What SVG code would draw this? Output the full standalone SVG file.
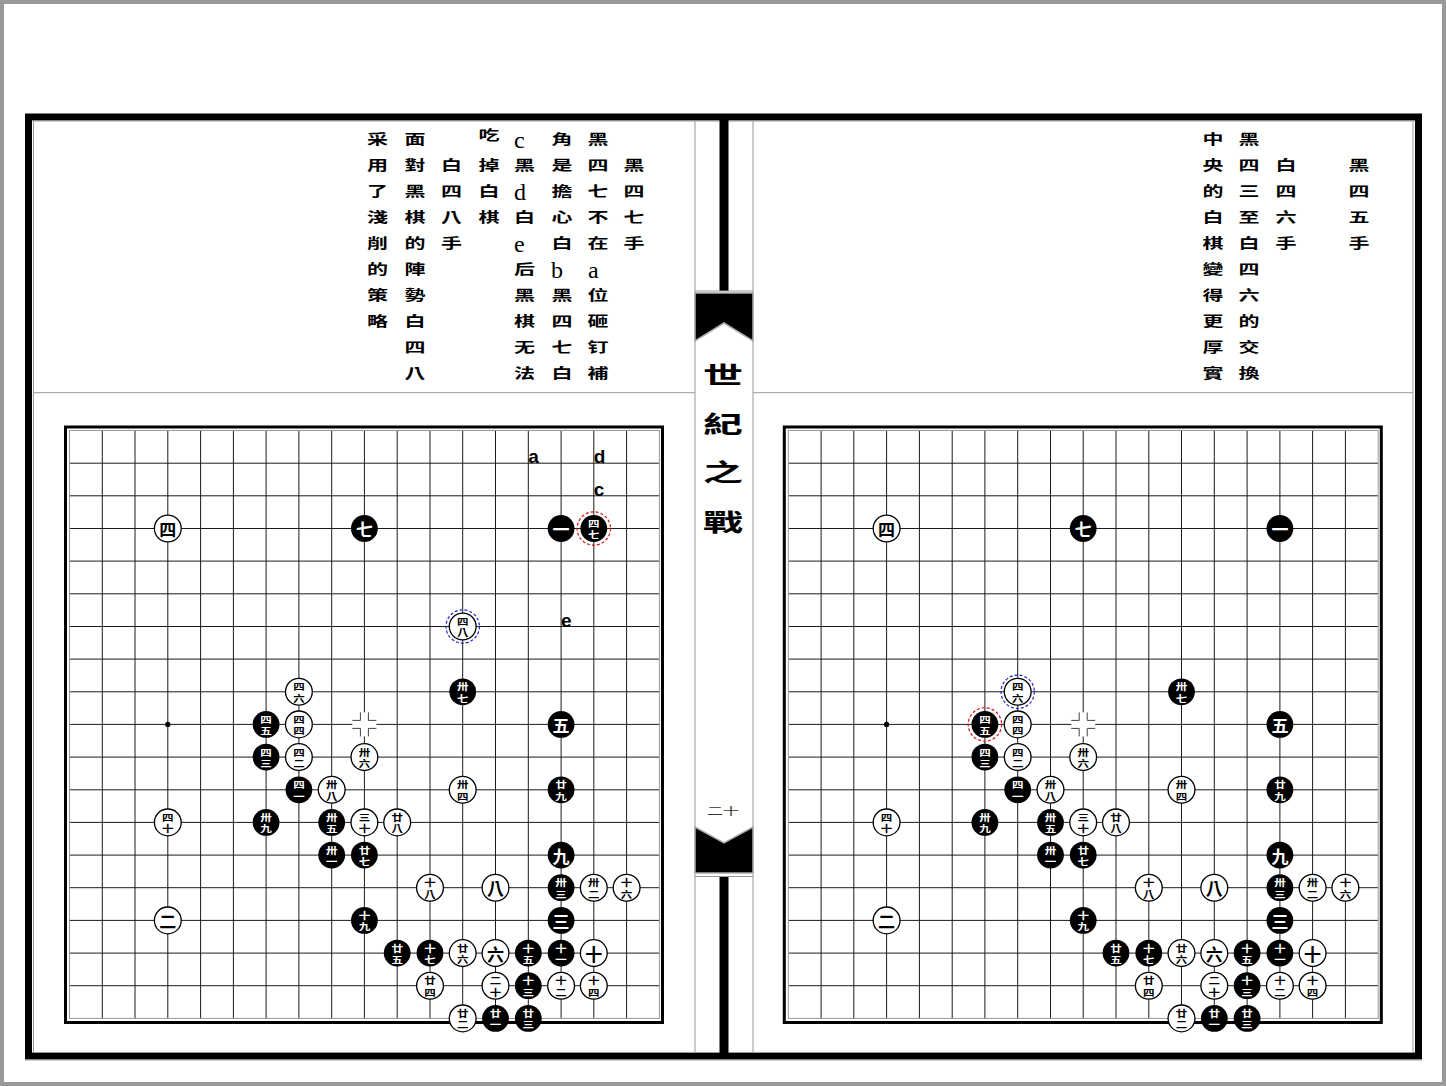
<svg xmlns="http://www.w3.org/2000/svg" width="1446" height="1086" viewBox="0 0 1446 1086">
<style>
.ln{stroke:#1a1a1a;stroke-width:1;fill:none}
.edge{stroke:#999;stroke-width:1;fill:none}
.gr{stroke:#999;stroke-width:1;fill:none}
.bs{fill:#000}
.ws{fill:#fff;stroke:#000;stroke-width:1.3}
.cj{font-family:"Noto Sans CJK TC","Noto Sans CJK SC",sans-serif;text-anchor:middle;dominant-baseline:central}
.t1{font-size:17px;font-weight:700}
.t2{font-size:11.5px;font-weight:700}
.wt{fill:#fff}
.rd{fill:none;stroke:#e01010;stroke-width:1.2;stroke-dasharray:3 2}
.bd{fill:none;stroke:#2020d0;stroke-width:1.2;stroke-dasharray:3 2}
.lb{font-family:"Liberation Sans",Arial,sans-serif;font-weight:700;font-size:19px;fill:#000}
.body{font-size:21px;font-weight:700;fill:#000}
.lat{font-family:"Liberation Serif","Times New Roman",serif;font-size:24px;fill:#000}
.ttl{font-size:40px;font-weight:700}
</style>
<defs>
<path id="grid" d="M102.3 430.5V1018.4M135 430.5V1018.4M167.8 430.5V1018.4M200.6 430.5V1018.4M233.4 430.5V1018.4M266.1 430.5V1018.4M298.9 430.5V1018.4M331.7 430.5V1018.4M364.4 430.5V1018.4M397.2 430.5V1018.4M430 430.5V1018.4M462.7 430.5V1018.4M495.5 430.5V1018.4M528.3 430.5V1018.4M561.1 430.5V1018.4M593.8 430.5V1018.4M626.6 430.5V1018.4M69.5 463.2H659.4M69.5 495.8H659.4M69.5 528.5H659.4M69.5 561.1H659.4M69.5 593.8H659.4M69.5 626.5H659.4M69.5 659.1H659.4M69.5 691.8H659.4M69.5 724.4H659.4M69.5 757.1H659.4M69.5 789.8H659.4M69.5 822.4H659.4M69.5 855.1H659.4M69.5 887.7H659.4M69.5 920.4H659.4M69.5 953.1H659.4M69.5 985.7H659.4"/>
<g id="tengen"><rect x="-12" y="-12" width="24" height="24" fill="#fff"/><path d="M-4 -12V-4H-12M4 -12V-4H12M-4 12V4H-12M4 12V4H12" stroke="#444" stroke-width="1" fill="none"/></g>
</defs>
<rect x="0" y="0" width="1446" height="1086" fill="#fff"/>
<rect x="2" y="2" width="1442" height="1082" fill="none" stroke="#999" stroke-width="4"/>

<g id="frame">
<rect x="28.5" y="117" width="1390" height="939" fill="none" stroke="#000" stroke-width="7"/>
<rect x="33.5" y="121" width="1379.5" height="931.5" class="gr"/>
<line x1="25" y1="1060" x2="1422" y2="1060" class="gr"/>
<line x1="33.5" y1="392.7" x2="695" y2="392.7" class="gr"/>
<line x1="753" y1="392.7" x2="1413" y2="392.7" class="gr"/>
<line x1="695" y1="121" x2="695" y2="1053" class="gr"/>
<line x1="753" y1="121" x2="753" y2="1053" class="gr"/>
<rect x="719.5" y="120" width="9" height="171" fill="#000"/>
<line x1="695" y1="291" x2="753" y2="291" class="gr"/>
<polygon points="695,293 753,293 753,341 724,323 695,341" fill="#000" stroke="#aaa" stroke-width="1.5"/>
<polygon points="695,827 724,843 753,827 753,873 695,873" fill="#000" stroke="#aaa" stroke-width="1.5"/>
<line x1="695" y1="876.5" x2="753" y2="876.5" class="gr"/>
<rect x="719.5" y="877" width="9" height="177" fill="#000"/>
</g>

<g id="title" class="cj ttl" transform="scale(1,0.6)">
<text x="723" y="621.67">世</text>
<text x="723" y="703.33">紀</text>
<text x="723" y="783.33">之</text>
<text x="723" y="866.67">戰</text>
</g>
<g id="pageno" class="cj" transform="scale(1,0.65)"><text x="723" y="1246.15" font-size="16" fill="#333">二十</text></g>

<g id="text-left" class="cj body" transform="scale(1,0.65)">
<text><tspan x="634" y="252.31">黑</tspan><tspan x="634" y="292.31">四</tspan><tspan x="634" y="332.31">七</tspan><tspan x="634" y="372.31">手</tspan></text>
<text><tspan x="598" y="212.31">黑</tspan><tspan x="598" y="252.31">四</tspan><tspan x="598" y="292.31">七</tspan><tspan x="598" y="332.31">不</tspan><tspan x="598" y="372.31">在</tspan><tspan x="598" y="452.31">位</tspan><tspan x="598" y="492.31">砸</tspan><tspan x="598" y="532.31">钉</tspan><tspan x="598" y="572.31">補</tspan></text>
<text><tspan x="562" y="212.31">角</tspan><tspan x="562" y="252.31">是</tspan><tspan x="562" y="292.31">擔</tspan><tspan x="562" y="332.31">心</tspan><tspan x="562" y="372.31">白</tspan><tspan x="562" y="452.31">黑</tspan><tspan x="562" y="492.31">四</tspan><tspan x="562" y="532.31">七</tspan><tspan x="562" y="572.31">白</tspan></text>
<text><tspan x="524.5" y="252.31">黑</tspan><tspan x="524.5" y="332.31">白</tspan><tspan x="524.5" y="412.31">后</tspan><tspan x="524.5" y="452.31">黑</tspan><tspan x="524.5" y="492.31">棋</tspan><tspan x="524.5" y="532.31">无</tspan><tspan x="524.5" y="572.31">法</tspan></text>
<text><tspan x="489" y="206.15">吃</tspan><tspan x="489" y="252.31">掉</tspan><tspan x="489" y="292.31">白</tspan><tspan x="489" y="332.31">棋</tspan></text>
<text><tspan x="451.5" y="252.31">白</tspan><tspan x="451.5" y="292.31">四</tspan><tspan x="451.5" y="332.31">八</tspan><tspan x="451.5" y="372.31">手</tspan></text>
<text><tspan x="415" y="212.31">面</tspan><tspan x="415" y="252.31">對</tspan><tspan x="415" y="292.31">黑</tspan><tspan x="415" y="332.31">棋</tspan><tspan x="415" y="372.31">的</tspan><tspan x="415" y="412.31">陣</tspan><tspan x="415" y="452.31">勢</tspan><tspan x="415" y="492.31">白</tspan><tspan x="415" y="532.31">四</tspan><tspan x="415" y="572.31">八</tspan></text>
<text><tspan x="377.5" y="212.31">采</tspan><tspan x="377.5" y="252.31">用</tspan><tspan x="377.5" y="292.31">了</tspan><tspan x="377.5" y="332.31">淺</tspan><tspan x="377.5" y="372.31">削</tspan><tspan x="377.5" y="412.31">的</tspan><tspan x="377.5" y="452.31">策</tspan><tspan x="377.5" y="492.31">略</tspan></text>
</g>
<g id="text-left-latin" class="lat">
<text x="588" y="277.5">a</text>
<text x="551" y="277.5">b</text>
<text x="514" y="147.5">c</text>
<text x="514" y="199.5">d</text>
<text x="514" y="251.5">e</text>
</g>

<g id="text-right" class="cj body" transform="scale(1,0.65)">
<text><tspan x="1359" y="252.31">黑</tspan><tspan x="1359" y="292.31">四</tspan><tspan x="1359" y="332.31">五</tspan><tspan x="1359" y="372.31">手</tspan></text>
<text><tspan x="1286" y="252.31">白</tspan><tspan x="1286" y="292.31">四</tspan><tspan x="1286" y="332.31">六</tspan><tspan x="1286" y="372.31">手</tspan></text>
<text><tspan x="1249" y="212.31">黑</tspan><tspan x="1249" y="252.31">四</tspan><tspan x="1249" y="292.31">三</tspan><tspan x="1249" y="332.31">至</tspan><tspan x="1249" y="372.31">白</tspan><tspan x="1249" y="412.31">四</tspan><tspan x="1249" y="452.31">六</tspan><tspan x="1249" y="492.31">的</tspan><tspan x="1249" y="532.31">交</tspan><tspan x="1249" y="572.31">換</tspan></text>
<text><tspan x="1213" y="212.31">中</tspan><tspan x="1213" y="252.31">央</tspan><tspan x="1213" y="292.31">的</tspan><tspan x="1213" y="332.31">白</tspan><tspan x="1213" y="372.31">棋</tspan><tspan x="1213" y="412.31">變</tspan><tspan x="1213" y="452.31">得</tspan><tspan x="1213" y="492.31">更</tspan><tspan x="1213" y="532.31">厚</tspan><tspan x="1213" y="572.31">實</tspan></text>
</g>

<g id="board-left">
<rect x="65.5" y="427" width="597" height="595.5" fill="none" stroke="#000" stroke-width="3"/>
<g id="L-grid">
<use href="#grid" class="ln"/>
<rect x="69.5" y="430.5" width="589.9" height="587.9" class="edge"/>
<circle cx="167.8" cy="724.4" r="2.6" fill="#000"/>
<use href="#tengen" transform="translate(364.4,724.4)"/>
</g>
<g id="L-labels" class="lb">
<text x="528.3" y="463.2">a</text>
<text x="593.8" y="463.2">d</text>
<text x="593.8" y="495.8">c</text>
<text x="561.1" y="626.5">e</text>
</g>
<g id="L-stones" class="cj">
<g id="L-w4" transform="translate(167.8,528.5)"><circle class="ws" r="13.4"/><text class="t1">四</text></g>
<g id="L-b7" transform="translate(364.4,528.5)"><circle class="bs" r="13.4"/><text class="t1 wt">七</text></g>
<g id="L-b1" transform="translate(561.1,528.5)"><circle class="bs" r="13.4"/><text class="t1 wt">一</text></g>
<g id="L-b47" transform="translate(593.8,528.5)"><circle class="bs" r="13.4"/><circle class="rd" r="16.7"/><text class="t2 wt" transform="scale(1,0.8)"><tspan x="0" y="-7.5">四</tspan><tspan x="0" y="6.9">七</tspan></text></g>
<g id="L-w48" transform="translate(462.7,626.5)"><circle class="ws" r="13.4"/><circle class="bd" r="16.7"/><text class="t2" transform="scale(1,0.8)"><tspan x="0" y="-7.5">四</tspan><tspan x="0" y="6.9">八</tspan></text></g>
<g id="L-b37" transform="translate(462.7,691.8)"><circle class="bs" r="13.4"/><text class="t2 wt" transform="scale(1,0.8)"><tspan x="0" y="-7.5">卅</tspan><tspan x="0" y="6.9">七</tspan></text></g>
<g id="L-b5" transform="translate(561.1,724.4)"><circle class="bs" r="13.4"/><text class="t1 wt">五</text></g>
<g id="L-w46" transform="translate(298.9,691.8)"><circle class="ws" r="13.4"/><text class="t2" transform="scale(1,0.8)"><tspan x="0" y="-7.5">四</tspan><tspan x="0" y="6.9">六</tspan></text></g>
<g id="L-b45" transform="translate(266.1,724.4)"><circle class="bs" r="13.4"/><text class="t2 wt" transform="scale(1,0.8)"><tspan x="0" y="-7.5">四</tspan><tspan x="0" y="6.9">五</tspan></text></g>
<g id="L-w44" transform="translate(298.9,724.4)"><circle class="ws" r="13.4"/><text class="t2" transform="scale(1,0.8)"><tspan x="0" y="-7.5">四</tspan><tspan x="0" y="6.9">四</tspan></text></g>
<g id="L-b43" transform="translate(266.1,757.1)"><circle class="bs" r="13.4"/><text class="t2 wt" transform="scale(1,0.8)"><tspan x="0" y="-7.5">四</tspan><tspan x="0" y="6.9">三</tspan></text></g>
<g id="L-w42" transform="translate(298.9,757.1)"><circle class="ws" r="13.4"/><text class="t2" transform="scale(1,0.8)"><tspan x="0" y="-7.5">四</tspan><tspan x="0" y="6.9">二</tspan></text></g>
<g id="L-w36" transform="translate(364.4,757.1)"><circle class="ws" r="13.4"/><text class="t2" transform="scale(1,0.8)"><tspan x="0" y="-7.5">卅</tspan><tspan x="0" y="6.9">六</tspan></text></g>
<g id="L-b41" transform="translate(298.9,789.8)"><circle class="bs" r="13.4"/><text class="t2 wt" transform="scale(1,0.8)"><tspan x="0" y="-7.5">四</tspan><tspan x="0" y="6.9">一</tspan></text></g>
<g id="L-w38" transform="translate(331.7,789.8)"><circle class="ws" r="13.4"/><text class="t2" transform="scale(1,0.8)"><tspan x="0" y="-7.5">卅</tspan><tspan x="0" y="6.9">八</tspan></text></g>
<g id="L-w34" transform="translate(462.7,789.8)"><circle class="ws" r="13.4"/><text class="t2" transform="scale(1,0.8)"><tspan x="0" y="-7.5">卅</tspan><tspan x="0" y="6.9">四</tspan></text></g>
<g id="L-b29" transform="translate(561.1,789.8)"><circle class="bs" r="13.4"/><text class="t2 wt" transform="scale(1,0.8)"><tspan x="0" y="-7.5">廿</tspan><tspan x="0" y="6.9">九</tspan></text></g>
<g id="L-w40" transform="translate(167.8,822.4)"><circle class="ws" r="13.4"/><text class="t2" transform="scale(1,0.8)"><tspan x="0" y="-7.5">四</tspan><tspan x="0" y="6.9">十</tspan></text></g>
<g id="L-b39" transform="translate(266.1,822.4)"><circle class="bs" r="13.4"/><text class="t2 wt" transform="scale(1,0.8)"><tspan x="0" y="-7.5">卅</tspan><tspan x="0" y="6.9">九</tspan></text></g>
<g id="L-b35" transform="translate(331.7,822.4)"><circle class="bs" r="13.4"/><text class="t2 wt" transform="scale(1,0.8)"><tspan x="0" y="-7.5">卅</tspan><tspan x="0" y="6.9">五</tspan></text></g>
<g id="L-w30" transform="translate(364.4,822.4)"><circle class="ws" r="13.4"/><text class="t2" transform="scale(1,0.8)"><tspan x="0" y="-7.5">三</tspan><tspan x="0" y="6.9">十</tspan></text></g>
<g id="L-w28" transform="translate(397.2,822.4)"><circle class="ws" r="13.4"/><text class="t2" transform="scale(1,0.8)"><tspan x="0" y="-7.5">廿</tspan><tspan x="0" y="6.9">八</tspan></text></g>
<g id="L-b31" transform="translate(331.7,855.1)"><circle class="bs" r="13.4"/><text class="t2 wt" transform="scale(1,0.8)"><tspan x="0" y="-7.5">卅</tspan><tspan x="0" y="6.9">一</tspan></text></g>
<g id="L-b27" transform="translate(364.4,855.1)"><circle class="bs" r="13.4"/><text class="t2 wt" transform="scale(1,0.8)"><tspan x="0" y="-7.5">廿</tspan><tspan x="0" y="6.9">七</tspan></text></g>
<g id="L-b9" transform="translate(561.1,855.1)"><circle class="bs" r="13.4"/><text class="t1 wt">九</text></g>
<g id="L-w18" transform="translate(430,887.7)"><circle class="ws" r="13.4"/><text class="t2" transform="scale(1,0.8)"><tspan x="0" y="-7.5">十</tspan><tspan x="0" y="6.9">八</tspan></text></g>
<g id="L-w8" transform="translate(495.5,887.7)"><circle class="ws" r="13.4"/><text class="t1">八</text></g>
<g id="L-b33" transform="translate(561.1,887.7)"><circle class="bs" r="13.4"/><text class="t2 wt" transform="scale(1,0.8)"><tspan x="0" y="-7.5">卅</tspan><tspan x="0" y="6.9">三</tspan></text></g>
<g id="L-w32" transform="translate(593.8,887.7)"><circle class="ws" r="13.4"/><text class="t2" transform="scale(1,0.8)"><tspan x="0" y="-7.5">卅</tspan><tspan x="0" y="6.9">二</tspan></text></g>
<g id="L-w16" transform="translate(626.6,887.7)"><circle class="ws" r="13.4"/><text class="t2" transform="scale(1,0.8)"><tspan x="0" y="-7.5">十</tspan><tspan x="0" y="6.9">六</tspan></text></g>
<g id="L-w2" transform="translate(167.8,920.4)"><circle class="ws" r="13.4"/><text class="t1">二</text></g>
<g id="L-b19" transform="translate(364.4,920.4)"><circle class="bs" r="13.4"/><text class="t2 wt" transform="scale(1,0.8)"><tspan x="0" y="-7.5">十</tspan><tspan x="0" y="6.9">九</tspan></text></g>
<g id="L-b3" transform="translate(561.1,920.4)"><circle class="bs" r="13.4"/><text class="t1 wt">三</text></g>
<g id="L-b25" transform="translate(397.2,953.1)"><circle class="bs" r="13.4"/><text class="t2 wt" transform="scale(1,0.8)"><tspan x="0" y="-7.5">廿</tspan><tspan x="0" y="6.9">五</tspan></text></g>
<g id="L-b17" transform="translate(430,953.1)"><circle class="bs" r="13.4"/><text class="t2 wt" transform="scale(1,0.8)"><tspan x="0" y="-7.5">十</tspan><tspan x="0" y="6.9">七</tspan></text></g>
<g id="L-w26" transform="translate(462.7,953.1)"><circle class="ws" r="13.4"/><text class="t2" transform="scale(1,0.8)"><tspan x="0" y="-7.5">廿</tspan><tspan x="0" y="6.9">六</tspan></text></g>
<g id="L-w6" transform="translate(495.5,953.1)"><circle class="ws" r="13.4"/><text class="t1">六</text></g>
<g id="L-b15" transform="translate(528.3,953.1)"><circle class="bs" r="13.4"/><text class="t2 wt" transform="scale(1,0.8)"><tspan x="0" y="-7.5">十</tspan><tspan x="0" y="6.9">五</tspan></text></g>
<g id="L-b11" transform="translate(561.1,953.1)"><circle class="bs" r="13.4"/><text class="t2 wt" transform="scale(1,0.8)"><tspan x="0" y="-7.5">十</tspan><tspan x="0" y="6.9">一</tspan></text></g>
<g id="L-w10" transform="translate(593.8,953.1)"><circle class="ws" r="13.4"/><text class="t1">十</text></g>
<g id="L-w24" transform="translate(430,985.7)"><circle class="ws" r="13.4"/><text class="t2" transform="scale(1,0.8)"><tspan x="0" y="-7.5">廿</tspan><tspan x="0" y="6.9">四</tspan></text></g>
<g id="L-w20" transform="translate(495.5,985.7)"><circle class="ws" r="13.4"/><text class="t2" transform="scale(1,0.8)"><tspan x="0" y="-7.5">二</tspan><tspan x="0" y="6.9">十</tspan></text></g>
<g id="L-b13" transform="translate(528.3,985.7)"><circle class="bs" r="13.4"/><text class="t2 wt" transform="scale(1,0.8)"><tspan x="0" y="-7.5">十</tspan><tspan x="0" y="6.9">三</tspan></text></g>
<g id="L-w12" transform="translate(561.1,985.7)"><circle class="ws" r="13.4"/><text class="t2" transform="scale(1,0.8)"><tspan x="0" y="-7.5">十</tspan><tspan x="0" y="6.9">二</tspan></text></g>
<g id="L-w14" transform="translate(593.8,985.7)"><circle class="ws" r="13.4"/><text class="t2" transform="scale(1,0.8)"><tspan x="0" y="-7.5">十</tspan><tspan x="0" y="6.9">四</tspan></text></g>
<g id="L-w22" transform="translate(462.7,1018.4)"><circle class="ws" r="13.4"/><text class="t2" transform="scale(1,0.8)"><tspan x="0" y="-7.5">廿</tspan><tspan x="0" y="6.9">二</tspan></text></g>
<g id="L-b21" transform="translate(495.5,1018.4)"><circle class="bs" r="13.4"/><text class="t2 wt" transform="scale(1,0.8)"><tspan x="0" y="-7.5">廿</tspan><tspan x="0" y="6.9">一</tspan></text></g>
<g id="L-b23" transform="translate(528.3,1018.4)"><circle class="bs" r="13.4"/><text class="t2 wt" transform="scale(1,0.8)"><tspan x="0" y="-7.5">廿</tspan><tspan x="0" y="6.9">三</tspan></text></g>
</g>
</g>

<g id="board-right" transform="translate(718.8,0)">
<rect x="65.5" y="427" width="597" height="595.5" fill="none" stroke="#000" stroke-width="3"/>
<g id="R-grid">
<use href="#grid" class="ln"/>
<rect x="69.5" y="430.5" width="589.9" height="587.9" class="edge"/>
<circle cx="167.8" cy="724.4" r="2.6" fill="#000"/>
<use href="#tengen" transform="translate(364.4,724.4)"/>
</g>
<g id="R-stones" class="cj">
<g id="R-w4" transform="translate(167.8,528.5)"><circle class="ws" r="13.4"/><text class="t1">四</text></g>
<g id="R-b7" transform="translate(364.4,528.5)"><circle class="bs" r="13.4"/><text class="t1 wt">七</text></g>
<g id="R-b1" transform="translate(561.1,528.5)"><circle class="bs" r="13.4"/><text class="t1 wt">一</text></g>
<g id="R-b37" transform="translate(462.7,691.8)"><circle class="bs" r="13.4"/><text class="t2 wt" transform="scale(1,0.8)"><tspan x="0" y="-7.5">卅</tspan><tspan x="0" y="6.9">七</tspan></text></g>
<g id="R-b5" transform="translate(561.1,724.4)"><circle class="bs" r="13.4"/><text class="t1 wt">五</text></g>
<g id="R-w46" transform="translate(298.9,691.8)"><circle class="ws" r="13.4"/><circle class="bd" r="16.7"/><text class="t2" transform="scale(1,0.8)"><tspan x="0" y="-7.5">四</tspan><tspan x="0" y="6.9">六</tspan></text></g>
<g id="R-b45" transform="translate(266.1,724.4)"><circle class="bs" r="13.4"/><circle class="rd" r="16.7"/><text class="t2 wt" transform="scale(1,0.8)"><tspan x="0" y="-7.5">四</tspan><tspan x="0" y="6.9">五</tspan></text></g>
<g id="R-w44" transform="translate(298.9,724.4)"><circle class="ws" r="13.4"/><text class="t2" transform="scale(1,0.8)"><tspan x="0" y="-7.5">四</tspan><tspan x="0" y="6.9">四</tspan></text></g>
<g id="R-b43" transform="translate(266.1,757.1)"><circle class="bs" r="13.4"/><text class="t2 wt" transform="scale(1,0.8)"><tspan x="0" y="-7.5">四</tspan><tspan x="0" y="6.9">三</tspan></text></g>
<g id="R-w42" transform="translate(298.9,757.1)"><circle class="ws" r="13.4"/><text class="t2" transform="scale(1,0.8)"><tspan x="0" y="-7.5">四</tspan><tspan x="0" y="6.9">二</tspan></text></g>
<g id="R-w36" transform="translate(364.4,757.1)"><circle class="ws" r="13.4"/><text class="t2" transform="scale(1,0.8)"><tspan x="0" y="-7.5">卅</tspan><tspan x="0" y="6.9">六</tspan></text></g>
<g id="R-b41" transform="translate(298.9,789.8)"><circle class="bs" r="13.4"/><text class="t2 wt" transform="scale(1,0.8)"><tspan x="0" y="-7.5">四</tspan><tspan x="0" y="6.9">一</tspan></text></g>
<g id="R-w38" transform="translate(331.7,789.8)"><circle class="ws" r="13.4"/><text class="t2" transform="scale(1,0.8)"><tspan x="0" y="-7.5">卅</tspan><tspan x="0" y="6.9">八</tspan></text></g>
<g id="R-w34" transform="translate(462.7,789.8)"><circle class="ws" r="13.4"/><text class="t2" transform="scale(1,0.8)"><tspan x="0" y="-7.5">卅</tspan><tspan x="0" y="6.9">四</tspan></text></g>
<g id="R-b29" transform="translate(561.1,789.8)"><circle class="bs" r="13.4"/><text class="t2 wt" transform="scale(1,0.8)"><tspan x="0" y="-7.5">廿</tspan><tspan x="0" y="6.9">九</tspan></text></g>
<g id="R-w40" transform="translate(167.8,822.4)"><circle class="ws" r="13.4"/><text class="t2" transform="scale(1,0.8)"><tspan x="0" y="-7.5">四</tspan><tspan x="0" y="6.9">十</tspan></text></g>
<g id="R-b39" transform="translate(266.1,822.4)"><circle class="bs" r="13.4"/><text class="t2 wt" transform="scale(1,0.8)"><tspan x="0" y="-7.5">卅</tspan><tspan x="0" y="6.9">九</tspan></text></g>
<g id="R-b35" transform="translate(331.7,822.4)"><circle class="bs" r="13.4"/><text class="t2 wt" transform="scale(1,0.8)"><tspan x="0" y="-7.5">卅</tspan><tspan x="0" y="6.9">五</tspan></text></g>
<g id="R-w30" transform="translate(364.4,822.4)"><circle class="ws" r="13.4"/><text class="t2" transform="scale(1,0.8)"><tspan x="0" y="-7.5">三</tspan><tspan x="0" y="6.9">十</tspan></text></g>
<g id="R-w28" transform="translate(397.2,822.4)"><circle class="ws" r="13.4"/><text class="t2" transform="scale(1,0.8)"><tspan x="0" y="-7.5">廿</tspan><tspan x="0" y="6.9">八</tspan></text></g>
<g id="R-b31" transform="translate(331.7,855.1)"><circle class="bs" r="13.4"/><text class="t2 wt" transform="scale(1,0.8)"><tspan x="0" y="-7.5">卅</tspan><tspan x="0" y="6.9">一</tspan></text></g>
<g id="R-b27" transform="translate(364.4,855.1)"><circle class="bs" r="13.4"/><text class="t2 wt" transform="scale(1,0.8)"><tspan x="0" y="-7.5">廿</tspan><tspan x="0" y="6.9">七</tspan></text></g>
<g id="R-b9" transform="translate(561.1,855.1)"><circle class="bs" r="13.4"/><text class="t1 wt">九</text></g>
<g id="R-w18" transform="translate(430,887.7)"><circle class="ws" r="13.4"/><text class="t2" transform="scale(1,0.8)"><tspan x="0" y="-7.5">十</tspan><tspan x="0" y="6.9">八</tspan></text></g>
<g id="R-w8" transform="translate(495.5,887.7)"><circle class="ws" r="13.4"/><text class="t1">八</text></g>
<g id="R-b33" transform="translate(561.1,887.7)"><circle class="bs" r="13.4"/><text class="t2 wt" transform="scale(1,0.8)"><tspan x="0" y="-7.5">卅</tspan><tspan x="0" y="6.9">三</tspan></text></g>
<g id="R-w32" transform="translate(593.8,887.7)"><circle class="ws" r="13.4"/><text class="t2" transform="scale(1,0.8)"><tspan x="0" y="-7.5">卅</tspan><tspan x="0" y="6.9">二</tspan></text></g>
<g id="R-w16" transform="translate(626.6,887.7)"><circle class="ws" r="13.4"/><text class="t2" transform="scale(1,0.8)"><tspan x="0" y="-7.5">十</tspan><tspan x="0" y="6.9">六</tspan></text></g>
<g id="R-w2" transform="translate(167.8,920.4)"><circle class="ws" r="13.4"/><text class="t1">二</text></g>
<g id="R-b19" transform="translate(364.4,920.4)"><circle class="bs" r="13.4"/><text class="t2 wt" transform="scale(1,0.8)"><tspan x="0" y="-7.5">十</tspan><tspan x="0" y="6.9">九</tspan></text></g>
<g id="R-b3" transform="translate(561.1,920.4)"><circle class="bs" r="13.4"/><text class="t1 wt">三</text></g>
<g id="R-b25" transform="translate(397.2,953.1)"><circle class="bs" r="13.4"/><text class="t2 wt" transform="scale(1,0.8)"><tspan x="0" y="-7.5">廿</tspan><tspan x="0" y="6.9">五</tspan></text></g>
<g id="R-b17" transform="translate(430,953.1)"><circle class="bs" r="13.4"/><text class="t2 wt" transform="scale(1,0.8)"><tspan x="0" y="-7.5">十</tspan><tspan x="0" y="6.9">七</tspan></text></g>
<g id="R-w26" transform="translate(462.7,953.1)"><circle class="ws" r="13.4"/><text class="t2" transform="scale(1,0.8)"><tspan x="0" y="-7.5">廿</tspan><tspan x="0" y="6.9">六</tspan></text></g>
<g id="R-w6" transform="translate(495.5,953.1)"><circle class="ws" r="13.4"/><text class="t1">六</text></g>
<g id="R-b15" transform="translate(528.3,953.1)"><circle class="bs" r="13.4"/><text class="t2 wt" transform="scale(1,0.8)"><tspan x="0" y="-7.5">十</tspan><tspan x="0" y="6.9">五</tspan></text></g>
<g id="R-b11" transform="translate(561.1,953.1)"><circle class="bs" r="13.4"/><text class="t2 wt" transform="scale(1,0.8)"><tspan x="0" y="-7.5">十</tspan><tspan x="0" y="6.9">一</tspan></text></g>
<g id="R-w10" transform="translate(593.8,953.1)"><circle class="ws" r="13.4"/><text class="t1">十</text></g>
<g id="R-w24" transform="translate(430,985.7)"><circle class="ws" r="13.4"/><text class="t2" transform="scale(1,0.8)"><tspan x="0" y="-7.5">廿</tspan><tspan x="0" y="6.9">四</tspan></text></g>
<g id="R-w20" transform="translate(495.5,985.7)"><circle class="ws" r="13.4"/><text class="t2" transform="scale(1,0.8)"><tspan x="0" y="-7.5">二</tspan><tspan x="0" y="6.9">十</tspan></text></g>
<g id="R-b13" transform="translate(528.3,985.7)"><circle class="bs" r="13.4"/><text class="t2 wt" transform="scale(1,0.8)"><tspan x="0" y="-7.5">十</tspan><tspan x="0" y="6.9">三</tspan></text></g>
<g id="R-w12" transform="translate(561.1,985.7)"><circle class="ws" r="13.4"/><text class="t2" transform="scale(1,0.8)"><tspan x="0" y="-7.5">十</tspan><tspan x="0" y="6.9">二</tspan></text></g>
<g id="R-w14" transform="translate(593.8,985.7)"><circle class="ws" r="13.4"/><text class="t2" transform="scale(1,0.8)"><tspan x="0" y="-7.5">十</tspan><tspan x="0" y="6.9">四</tspan></text></g>
<g id="R-w22" transform="translate(462.7,1018.4)"><circle class="ws" r="13.4"/><text class="t2" transform="scale(1,0.8)"><tspan x="0" y="-7.5">廿</tspan><tspan x="0" y="6.9">二</tspan></text></g>
<g id="R-b21" transform="translate(495.5,1018.4)"><circle class="bs" r="13.4"/><text class="t2 wt" transform="scale(1,0.8)"><tspan x="0" y="-7.5">廿</tspan><tspan x="0" y="6.9">一</tspan></text></g>
<g id="R-b23" transform="translate(528.3,1018.4)"><circle class="bs" r="13.4"/><text class="t2 wt" transform="scale(1,0.8)"><tspan x="0" y="-7.5">廿</tspan><tspan x="0" y="6.9">三</tspan></text></g>
</g>
</g>
</svg>
